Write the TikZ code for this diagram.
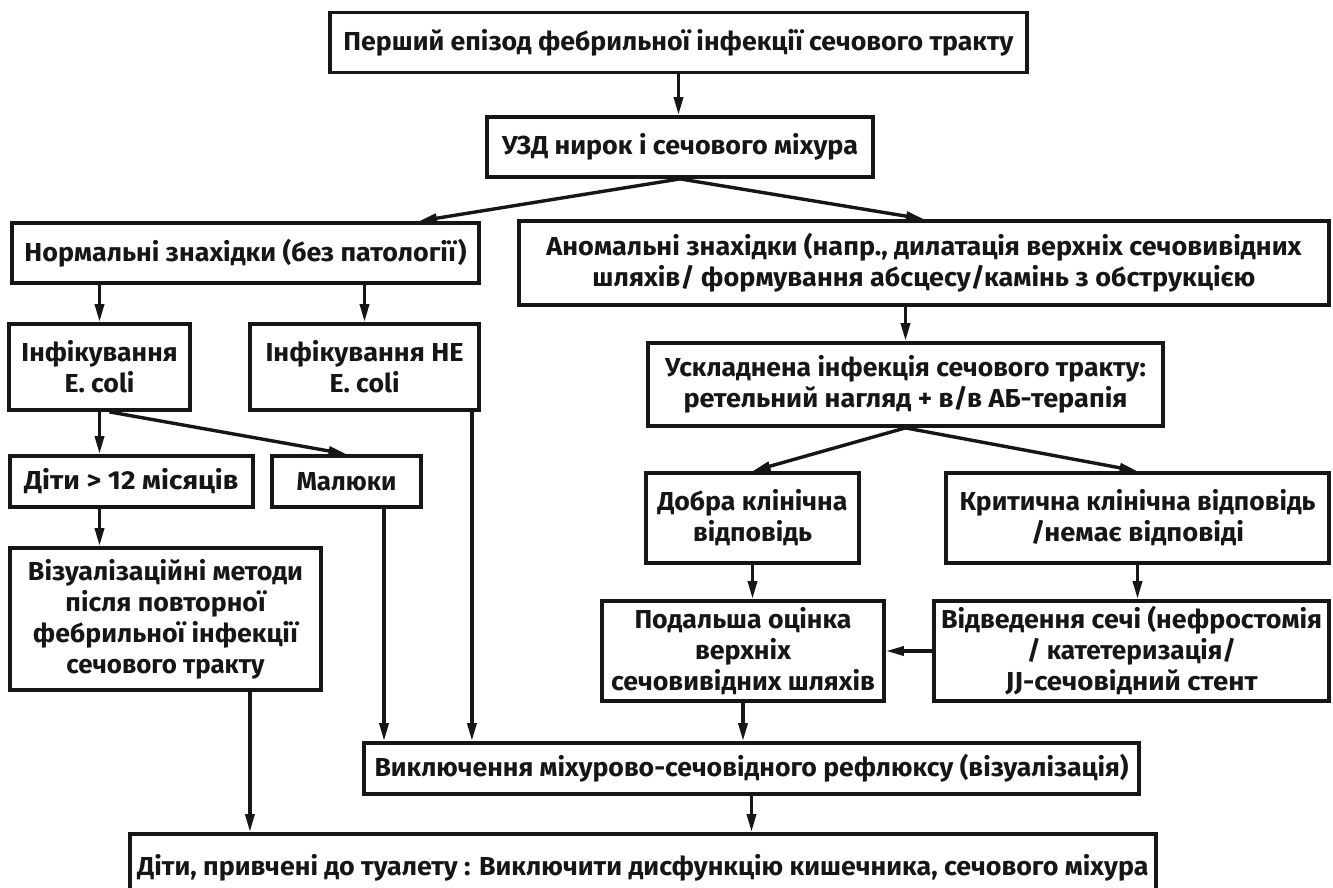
\documentclass[tikz,border=0pt]{standalone}
\usepackage{fontspec}
\usepackage{graphicx}
\setmainfont{Fira Sans}
\usetikzlibrary{arrows.meta}
\definecolor{ink}{RGB}{22,22,22}
\newcommand\fw[2]{\resizebox{#1pt}{\height}{#2}}
\begin{document}
\begin{tikzpicture}[x=1pt,y=-1pt,
  every node/.style={font=\bfseries\fontsize{26}{31}\selectfont, text=ink},
  box/.style={draw=ink, line width=3.8pt, rectangle, align=center, inner sep=0pt},
  arr/.style={draw=ink, line width=3.4pt, -{Triangle[length=18pt,width=9pt]}}]
\useasboundingbox (0,0) rectangle (1333,888);
\fill[white] (0,0) rectangle (1333,888);
\node[box, minimum width=697, minimum height=60] (top) at (678.5,42.5) {\fw{670}{Перший епізод фебрильної інфекції сечового тракту}};
\node[box, minimum width=386, minimum height=60] (uzd) at (680,147) {\fw{356}{УЗД нирок і сечового міхура}};
\node[box, minimum width=467, minimum height=60] (norm) at (245.5,253) {\fw{442}{Нормальні знахідки (без патології)}};
\node[box, minimum width=810, minimum height=84] (abn) at (924,263) {\fw{755}{Аномальні знахідки (напр., дилатація верхніх сечовивідних}\\\fw{663}{шляхів/ формування абсцесу/камінь з обструкцією}};
\node[box, minimum width=181, minimum height=86] (ecoli) at (99.5,367) {\fw{156}{Інфікування}\\\fw{70}{E. coli}};
\node[box, minimum width=229, minimum height=86] (neecoli) at (364.5,367) {\fw{198}{Інфікування НЕ}\\\fw{70}{E. coli}};
\node[box, minimum width=515, minimum height=83] (ukl) at (905.5,384.5) {\fw{481}{Ускладнена інфекція сечового тракту:}\\\fw{444}{ретельний нагляд + в/в АБ-терапія}};
\node[box, minimum width=243, minimum height=51] (dity) at (131.5,481.5) {\fw{214}{Діти > 12 місяців}};
\node[box, minimum width=149, minimum height=51] (maly) at (346.5,481.5) {\fw{100}{Малюки}};
\node[box, minimum width=311, minimum height=142] (viz) at (165.5,619) {\fw{275}{Візуалізаційні методи}\\\fw{200}{після повторної}\\\fw{265}{фебрильної інфекції}\\\fw{198}{сечового тракту}};
\node[box, minimum width=213, minimum height=90] (dobra) at (752.5,518) {\fw{190}{Добра клінічна}\\\fw{119}{відповідь}};
\node[box, minimum width=383, minimum height=90] (kryt) at (1137.5,518) {\fw{356}{Критична клінічна відповідь}\\\fw{213}{/немає відповіді}};
\node[box, minimum width=282, minimum height=100] (podal) at (743,651) {\fw{217}{Подальша оцінка}\\\fw{96}{верхніх}\\\fw{264}{сечовивідних шляхів}};
\node[box, minimum width=395, minimum height=100] (vidv) at (1131.5,651) {\fw{381}{Відведення сечі (нефростомія}\\\fw{209}{/ катетеризація/}\\\fw{252}{JJ-сечовідний стент}};
\node[box, minimum width=775, minimum height=51] (vykl) at (751.5,768.5) {\fw{754}{Виключення міхурово-сечовідного рефлюксу (візуалізація)}};
\node[box, minimum width=1026, minimum height=62, text depth=0pt] (bot) at (643,865) {\fw{1011}{Діти, привчені до туалету : Виключити дисфункцію кишечника, сечового міхура}};

\draw[arr] (top.south) -- (top.south |- uzd.north);
\draw[arr] (uzd.south) -- ([xshift=-62pt]norm.north east);
\draw[arr] (uzd.south) -- (abn.north);
\draw[arr] (norm.south -| ecoli.north) -- (ecoli.north);
\draw[arr] (norm.south -| neecoli.north) -- (neecoli.north);
\draw[arr] (abn.south -| ukl.north) -- (ukl.north);
\draw[arr] (ecoli.south) -- (ecoli.south |- dity.north);
\draw[arr] ([xshift=10pt]ecoli.south) -- (maly.north);
\draw[arr] (dity.south -| ecoli.south) -- (ecoli.south |- viz.north);
\draw[arr] ([xshift=37.5pt]maly.south) -- ([xshift=37.5pt]maly.south |- vykl.north);
\draw[arr] ([xshift=-9pt]neecoli.south east) -- ([xshift=-9pt]neecoli.south east |- vykl.north);
\draw[arr] ([xshift=-73pt]viz.south east) -- ([xshift=-73pt]viz.south east |- bot.north);
\draw[arr] (ukl.south) -- (dobra.north);
\draw[arr] (ukl.south) -- (kryt.north);
\draw[arr] (dobra.south) -- (dobra.south |- podal.north);
\draw[arr] (kryt.south) -- (kryt.south |- vidv.north);
\draw[arr] (vidv.west) -- (podal.east);
\draw[arr] (podal.south) -- (podal.south |- vykl.north);
\draw[arr] (vykl.south) -- (vykl.south |- bot.north);
\end{tikzpicture}
\end{document}
